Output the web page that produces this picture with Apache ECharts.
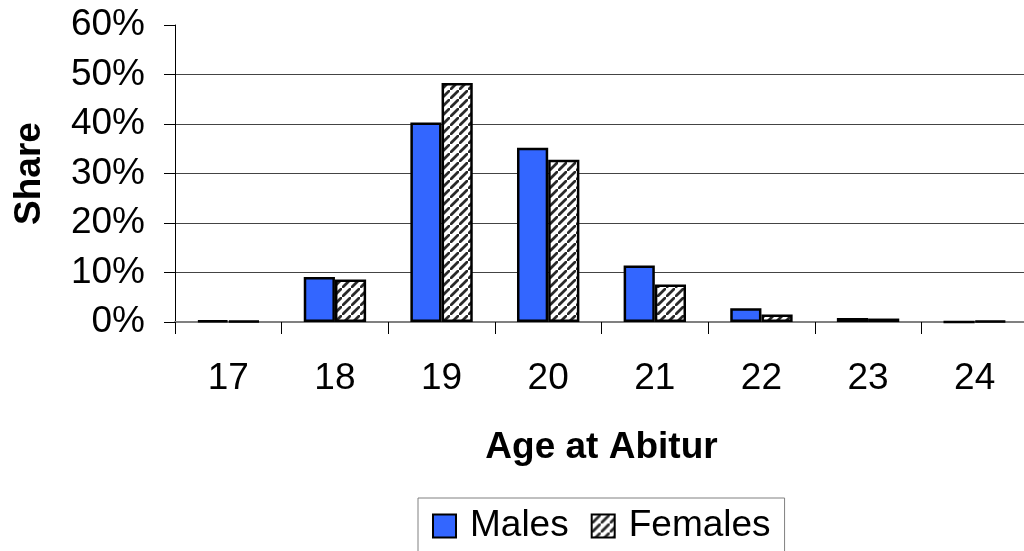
<!DOCTYPE html>
<html>
<head>
<meta charset="utf-8">
<script src="https://cdn.jsdelivr.net/npm/echarts@6/dist/echarts.min.js"></script>
<style>
html,body{margin:0;padding:0;background:#fff;}
#chart{width:1024px;height:551px;}
</style>
</head>
<body>
<div id="chart"></div>
<script>
const categories = ['17','18','19','20','21','22','23','24'];
const males   = [0.3, 9.1, 40.3, 35.2, 11.4, 2.8, 0.8, 0];
const females = [0.2, 8.6, 48.3, 32.8, 7.6, 1.5, 0.7, 0.2];
const yTicks = [0, 10, 20, 30, 40, 50, 60];

function hatch() {
  const s = 9;
  const c = document.createElement('canvas');
  c.width = s; c.height = s;
  const g = c.getContext('2d');
  g.fillStyle = '#fff';
  g.fillRect(0, 0, s, s);
  g.strokeStyle = '#2a2a2a';
  g.lineWidth = 2.8;
  g.beginPath();
  g.moveTo(-2, s + 2); g.lineTo(s + 2, -2);
  g.moveTo(-2 - s, s + 2 - s); g.lineTo(s + 2 - s, -2 - s);
  g.moveTo(-2 + s, s + 2 + s); g.lineTo(s + 2 + s, -2 + s);
  g.stroke();
  return c;
}

const FONT = 'Liberation Sans, Arial, sans-serif';
const chart = echarts.init(document.getElementById('chart'), null, {renderer: 'canvas'});
chart.setOption({
  animation: false,
  backgroundColor: '#fff',
  grid: {left: 175, top: 25, width: 853, height: 297, containLabel: false, outerBoundsMode: 'none'},
  legend: {
    left: 418, top: 498,
    icon: 'rect',
    itemWidth: 23, itemHeight: 23, itemGap: 22,
    padding: [8, 14, 10, 14],
    borderColor: '#808080', borderWidth: 1,
    textStyle: {fontFamily: FONT, fontSize: 37, color: '#000', padding: [0, 0, 0, 9], lineHeight: 40},
    data: ['Males', 'Females']
  },
  xAxis: {
    type: 'category',
    data: categories,
    name: 'Age at Abitur',
    nameLocation: 'middle',
    nameGap: 107,
    nameTextStyle: {fontFamily: FONT, fontSize: 37, fontWeight: 'bold', color: '#000'},
    axisLine: {lineStyle: {color: '#808080', width: 2}},
    axisTick: {show: true, length: 12, lineStyle: {color: '#000', width: 1}},
    axisLabel: {fontFamily: FONT, fontSize: 37, color: '#000', margin: 38}
  },
  yAxis: {
    type: 'value',
    min: 0, max: 60, interval: 10,
    name: 'Share',
    nameLocation: 'middle',
    nameGap: 127,
    nameRotate: 90,
    nameTextStyle: {fontFamily: FONT, fontSize: 37, fontWeight: 'bold', color: '#000'},
    axisLine: {show: true, lineStyle: {color: '#000', width: 1}},
    axisTick: {show: true, length: 11, lineStyle: {color: '#000', width: 1}},
    axisLabel: {fontFamily: FONT, fontSize: 37, color: '#000', margin: 30,
      formatter: v => yTicks.includes(v) ? v + '%' : ''},
    splitLine: {show: true, lineStyle: {color: ['#444','#444','#444','#444','#444','#444','rgba(0,0,0,0)'], width: 1}}
  },
  series: [
    {
      name: 'Males', type: 'bar', data: males,
      barGap: '0%', barCategoryGap: '41.5%',
      itemStyle: {color: '#3366FF', borderColor: '#000', borderWidth: 2.5}
    },
    {
      name: 'Females', type: 'bar', data: females,
      barGap: '0%', barCategoryGap: '41.5%',
      itemStyle: {color: {image: hatch(), repeat: 'repeat'}, borderColor: '#000', borderWidth: 2.5}
    }
  ]
});
</script>
</body>
</html>
